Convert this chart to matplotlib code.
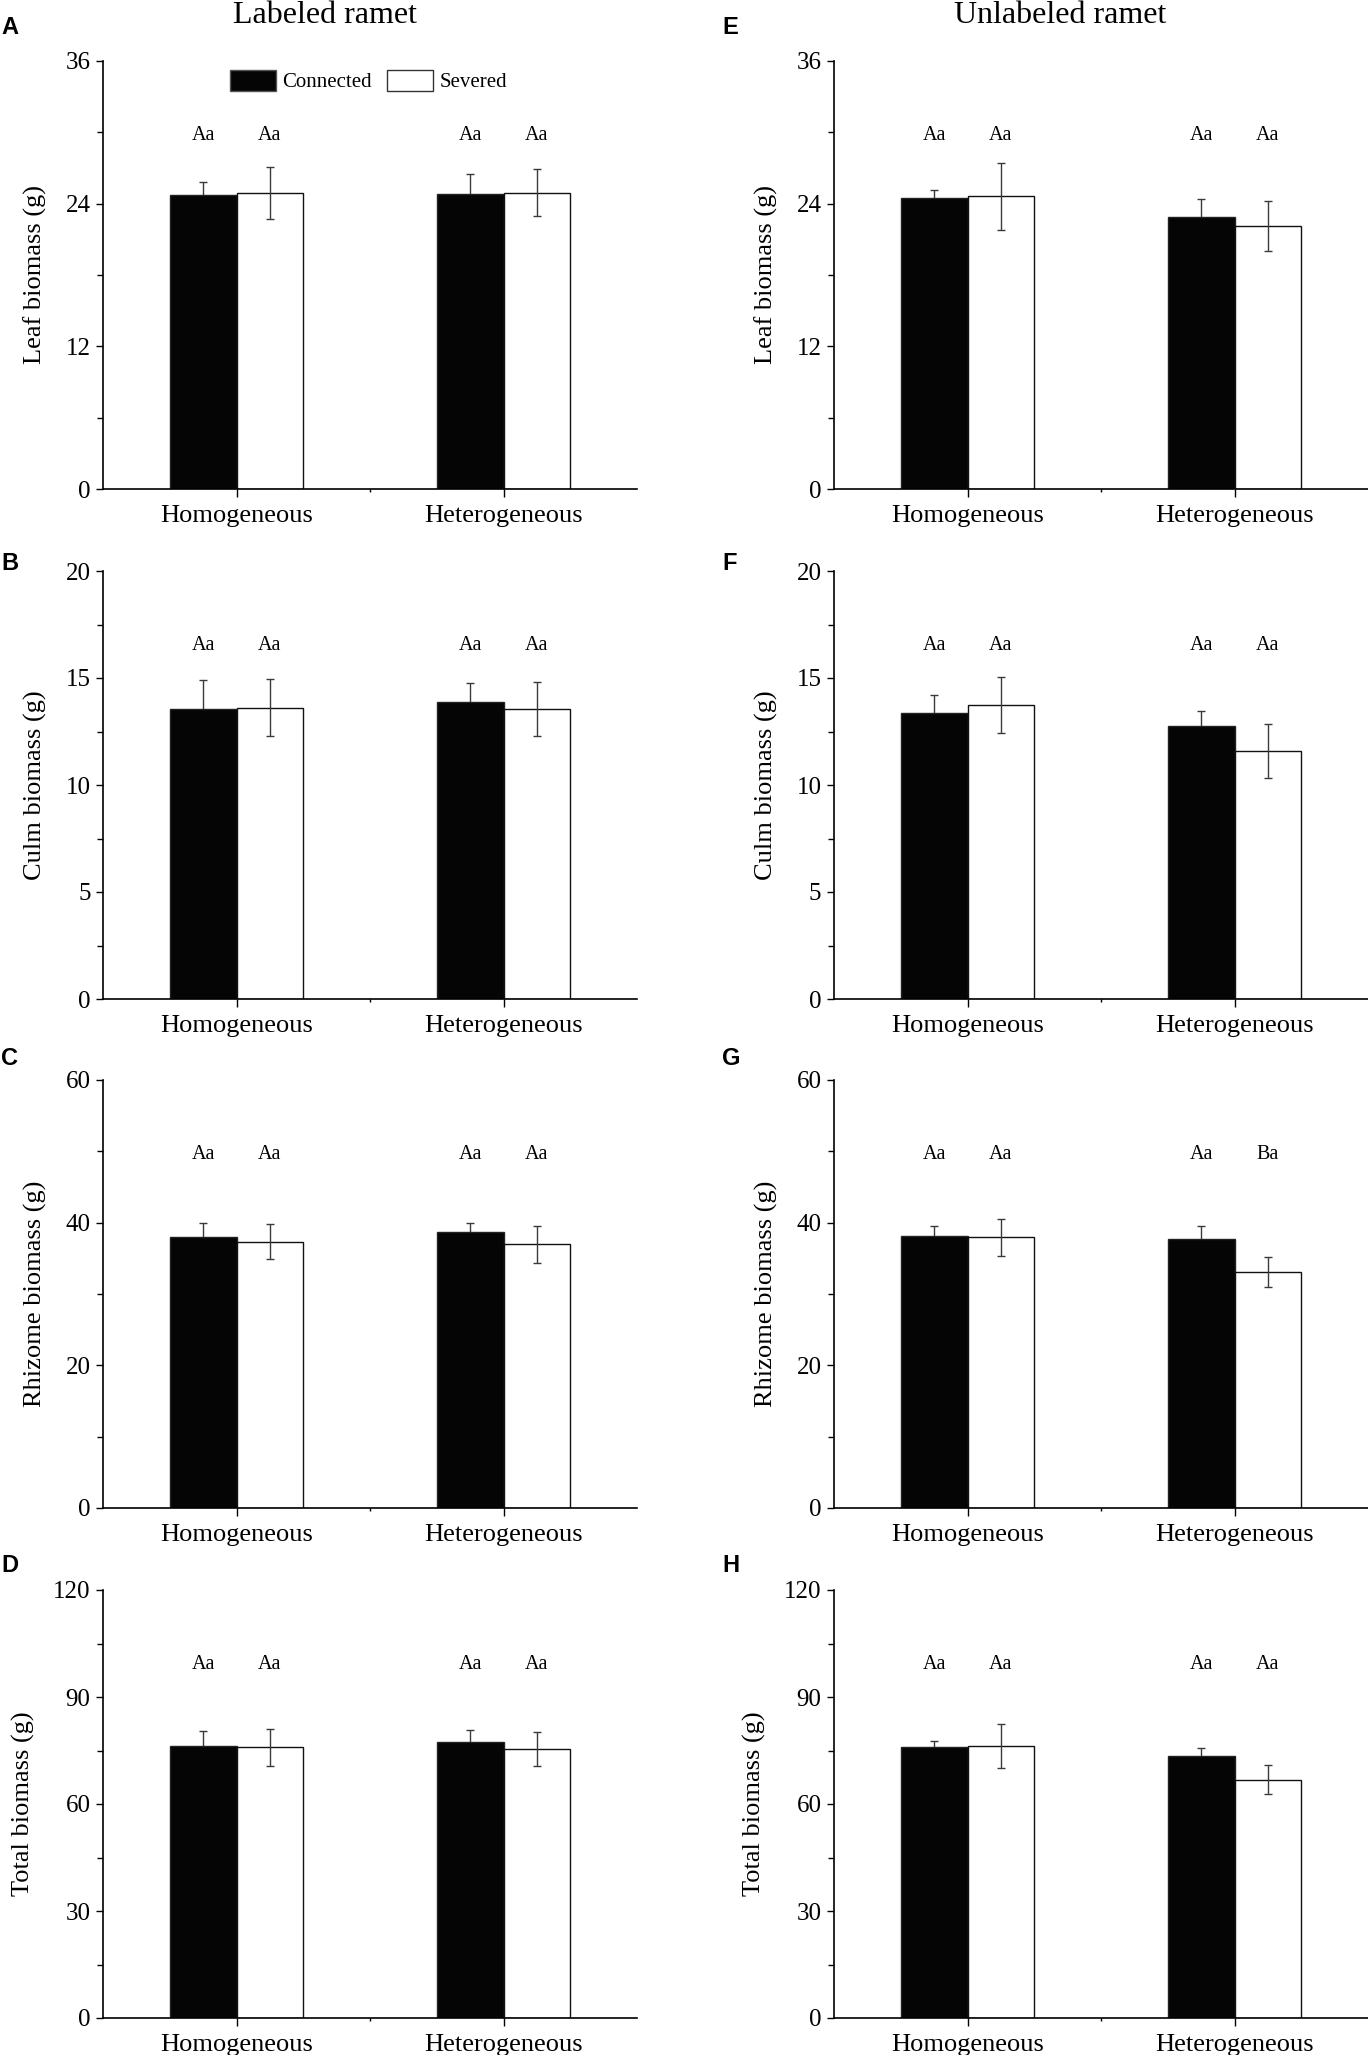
import matplotlib
matplotlib.use("Agg")
import matplotlib.pyplot as plt
from matplotlib.ticker import MultipleLocator, FixedLocator
from matplotlib.patches import Patch
import numpy as np

plt.rcParams['font.family'] = ['Liberation Serif', 'DejaVu Serif']

# ---------------- data ----------------
categories = ['Homogeneous', 'Heterogeneous']
series_names = ['Connected', 'Severed']
column_titles = ['Labeled ramet', 'Unlabeled ramet']
panel_letters = [['A', 'B', 'C', 'D'], ['E', 'F', 'G', 'H']]
ylabels = ['Leaf biomass (g)', 'Culm biomass (g)', 'Rhizome biomass (g)', 'Total biomass (g)']
ymax = [36, 20, 60, 120]
ymajor = [12, 5, 20, 30]

# Labeled ramet (A-D)
leaf_lab_conn = [24.7, 24.85]
leaf_lab_conn_se = [1.1, 1.65]
leaf_lab_sev = [24.9, 24.93]
leaf_lab_sev_se = [2.15, 1.95]

culm_lab_conn = [13.55, 13.88]
culm_lab_conn_se = [1.36, 0.9]
culm_lab_sev = [13.61, 13.53]
culm_lab_sev_se = [1.32, 1.26]

rhiz_lab_conn = [37.95, 38.65]
rhiz_lab_conn_se = [1.95, 1.35]
rhiz_lab_sev = [37.35, 36.97]
rhiz_lab_sev_se = [2.4, 2.6]

tot_lab_conn = [76.2, 77.5]
tot_lab_conn_se = [4.2, 3.2]
tot_lab_sev = [75.9, 75.5]
tot_lab_sev_se = [5.25, 4.8]

# Unlabeled ramet (E-H)
leaf_unl_conn = [24.5, 22.9]
leaf_unl_conn_se = [0.67, 1.46]
leaf_unl_sev = [24.62, 22.13]
leaf_unl_sev_se = [2.8, 2.13]

culm_unl_conn = [13.35, 12.75]
culm_unl_conn_se = [0.84, 0.7]
culm_unl_sev = [13.74, 11.58]
culm_unl_sev_se = [1.3, 1.26]

rhiz_unl_conn = [38.18, 37.67]
rhiz_unl_conn_se = [1.31, 1.82]
rhiz_unl_sev = [37.95, 33.09]
rhiz_unl_sev_se = [2.63, 2.07]

tot_unl_conn = [76.1, 73.4]
tot_unl_conn_se = [1.5, 2.4]
tot_unl_sev = [76.3, 66.85]
tot_unl_sev_se = [6.25, 4.05]

# significance letters [connected, severed] per category
letters_lab = [
    [['Aa', 'Aa'], ['Aa', 'Aa']],
    [['Aa', 'Aa'], ['Aa', 'Aa']],
    [['Aa', 'Aa'], ['Aa', 'Aa']],
    [['Aa', 'Aa'], ['Aa', 'Aa']],
]
letters_unl = [
    [['Aa', 'Aa'], ['Aa', 'Aa']],
    [['Aa', 'Aa'], ['Aa', 'Aa']],
    [['Aa', 'Aa'], ['Aa', 'Ba']],
    [['Aa', 'Aa'], ['Aa', 'Aa']],
]

lab_data = [
    (leaf_lab_conn, leaf_lab_conn_se, leaf_lab_sev, leaf_lab_sev_se),
    (culm_lab_conn, culm_lab_conn_se, culm_lab_sev, culm_lab_sev_se),
    (rhiz_lab_conn, rhiz_lab_conn_se, rhiz_lab_sev, rhiz_lab_sev_se),
    (tot_lab_conn, tot_lab_conn_se, tot_lab_sev, tot_lab_sev_se),
]
unl_data = [
    (leaf_unl_conn, leaf_unl_conn_se, leaf_unl_sev, leaf_unl_sev_se),
    (culm_unl_conn, culm_unl_conn_se, culm_unl_sev, culm_unl_sev_se),
    (rhiz_unl_conn, rhiz_unl_conn_se, rhiz_unl_sev, rhiz_unl_sev_se),
    (tot_unl_conn, tot_unl_conn_se, tot_unl_sev, tot_unl_sev_se),
]

# ---------------- layout ----------------
W, H = 1368, 2055
DPI = 100
fig = plt.figure(figsize=(W / DPI, H / DPI), dpi=DPI)

col_left = [103, 834]
ax_w = 534
row_top = [61, 571, 1080, 1590]
ax_h = 428
letter_x = [1, 722]
letter_baseline = [34, 570, 1065, 1572]
title_cx = [325, 1060]

bar_w = 0.25
x = np.arange(len(categories))
err_color = '#3a3a3a'

for c, (data, letters) in enumerate([(lab_data, letters_lab), (unl_data, letters_unl)]):
    for r in range(4):
        rect = [col_left[c] / W, 1 - (row_top[r] + ax_h) / H, ax_w / W, ax_h / H]
        ax = fig.add_axes(rect)
        conn, conn_se, sev, sev_se = data[r]

        ax.bar(x - bar_w / 2, conn, bar_w, color='#050505', edgecolor='#222222',
               linewidth=1.0, zorder=2, label=series_names[0])
        ax.bar(x + bar_w / 2, sev, bar_w, color='white', edgecolor='#111111',
               linewidth=1.0, zorder=2, label=series_names[1])
        ax.errorbar(x - bar_w / 2, conn, yerr=conn_se, fmt='none', ecolor=err_color,
                    elinewidth=1.0, capsize=3, capthick=1.0, zorder=1)
        ax.errorbar(x + bar_w / 2, sev, yerr=sev_se, fmt='none', ecolor=err_color,
                    elinewidth=1.0, capsize=3, capthick=1.0, zorder=3)

        for i in range(len(categories)):
            ax.text(x[i] - bar_w / 2, 0.815, letters[r][i][0], transform=ax.get_xaxis_transform(),
                    ha='center', va='baseline', fontsize=14.5)
            ax.text(x[i] + bar_w / 2, 0.815, letters[r][i][1], transform=ax.get_xaxis_transform(),
                    ha='center', va='baseline', fontsize=14.5)

        ax.set_xlim(-0.5, 1.5)
        ax.set_ylim(0, ymax[r])
        ax.yaxis.set_major_locator(MultipleLocator(ymajor[r]))
        ax.yaxis.set_minor_locator(MultipleLocator(ymajor[r] / 2))
        ax.set_xticks(x)
        ax.set_xticklabels(categories, fontsize=19)
        ax.xaxis.set_minor_locator(FixedLocator([0.5]))
        ax.tick_params(axis='y', which='major', direction='out', length=5, width=1.0,
                       labelsize=18, pad=4)
        ax.tick_params(axis='y', which='minor', direction='out', length=4.5, width=1.0)
        ax.tick_params(axis='x', which='major', direction='out', length=5.5, width=1.0, pad=6)
        ax.tick_params(axis='x', which='minor', direction='out', length=2.5, width=1.0)
        for s in ['top', 'right']:
            ax.spines[s].set_visible(False)
        for s in ['left', 'bottom']:
            ax.spines[s].set_linewidth(1.2)
        ax.set_ylabel(ylabels[r], fontsize=19, labelpad=13)

        if c == 0 and r == 0:
            handles = [Patch(facecolor='#050505', edgecolor='#555555', linewidth=1.0),
                       Patch(facecolor='white', edgecolor='#333333', linewidth=1.0)]
            ax.legend(handles, series_names, loc='upper left',
                      bbox_to_anchor=((230 - col_left[0]) / ax_w, 1 - 9 / ax_h),
                      ncol=2, frameon=False, fontsize=15, handlelength=2.2,
                      handleheight=1.15, handletextpad=0.3, columnspacing=0.75,
                      borderpad=0, borderaxespad=0)

        fig.text(letter_x[c] / W, 1 - letter_baseline[r] / H, panel_letters[c][r],
                 family=['Liberation Sans', 'DejaVu Sans'], fontweight='bold',
                 fontsize=17, ha='left', va='baseline')

    fig.text(title_cx[c] / W, 1 - 23 / H, column_titles[c], fontsize=23,
             ha='center', va='baseline')

fig.savefig('out.png', dpi=DPI)
